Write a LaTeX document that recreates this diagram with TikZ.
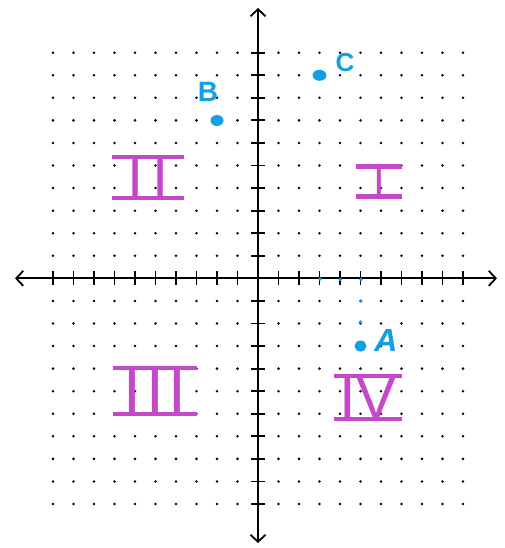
\documentclass[tikz,border=0pt]{standalone}
\usepackage{fontspec}
\setsansfont{Liberation Sans}
\usetikzlibrary{arrows.meta}
\definecolor{pen}{RGB}{196,72,200}
\definecolor{ink}{RGB}{18,160,226}
\newcommand\romnum[3]{% #1 font size, #2 side pad, #3 text
  \setbox0=\hbox{\fontsize{#1}{#1}\selectfont\sffamily\kern#2\relax#3\kern#2\relax}%
  \vbox{\hrule height 4.5pt width\wd0 \kern-1.5pt \copy0 \kern-1.5pt \hrule height 4.5pt width\wd0}}
\tikzset{
  axis/.style={line width=1.8pt, black},
  barb/.tip={Straight Barb[length=7pt,width=15pt]},
  gdot/.style={fill=black},
  numeral/.style={text=pen, inner sep=0pt},
  letter/.style={text=ink, inner sep=0pt, font=\sffamily\bfseries},
}
\begin{document}
\begin{tikzpicture}[x=1pt,y=-1pt]
\useasboundingbox (0,0) rectangle (504,548);
\fill[white] (0,0) rectangle (504,548);
% grid dots
\foreach \i in {-10,...,10}{
  \foreach \j in {-10,...,10}{
    \ifnum\i=0\relax\else\ifnum\j=0\relax\else
      \fill[gdot] ({258+20.5*\i},{278.35-22.565*\j}) circle (1.4);
    \fi\fi
  }
}
% axes
\coordinate (xl) at (15,278.35);
\coordinate (xr) at (497,278.35);
\coordinate (yt) at (258,8);
\coordinate (yb) at (258,543);
\draw[axis, barb-barb] (xl) -- (xr);
\draw[axis, barb-barb] (yb) -- (yt);
% ticks
\foreach \i in {-10,...,-1,1,2,...,10}{
  \draw[axis] ({258+20.5*\i},271.35) -- ++(0,14);
  \draw[axis] (251,{278.35-22.565*\i}) -- ++(14,0);
}
% blue marks
\foreach \p in {(320,279),(340.5,279.5),(361,279.5),(361,301),(360.5,322)}{
  \fill[ink] \p circle (1.8);
}
% blue points
\fill[ink] (217,120.5) ellipse (6.5 and 5.5);
\fill[ink] (319.5,75.3) ellipse (7 and 5.5);
\fill[ink] (360.5,346) ellipse (6 and 5.5);
\node[letter, font=\sffamily\bfseries\fontsize{28pt}{28pt}\selectfont] (lb) at (208,92) {B};
\node[letter, font=\sffamily\bfseries\fontsize{26pt}{26pt}\selectfont] (lc) at (345,63) {C};
\node[letter, font=\sffamily\bfseries\itshape\fontsize{32pt}{32pt}\selectfont] (la) at (386,340) {A};
% roman numerals
\node[numeral] (q2) at (148,177.5) {\romnum{58pt}{15pt}{I\kern9pt I}};
\node[numeral] (q1) at (379,181.5) {\romnum{42pt}{17.5pt}{I}};
\node[numeral] (q3) at (155,391) {\romnum{64pt}{11pt}{I\kern4.7pt I\kern4.7pt I}};
\node[numeral] (q4) at (368,397.5) {\romnum{60pt}{6pt}{IV}};
\end{tikzpicture}
\end{document}
